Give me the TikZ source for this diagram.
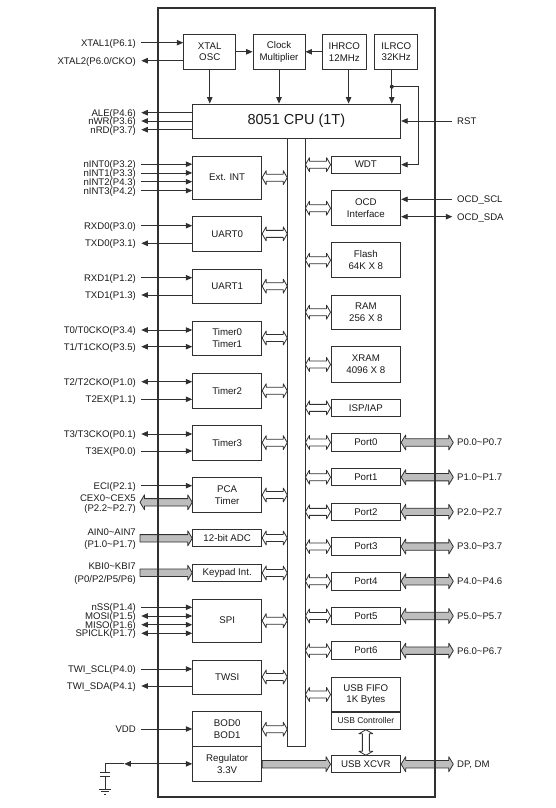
\documentclass[tikz,border=0pt]{standalone}
\usepackage{fontspec}
\setmainfont{Liberation Sans}
\usetikzlibrary{arrows.meta,calc}
\definecolor{ln}{HTML}{303030}
\definecolor{gfill}{HTML}{BDBDBD}
\definecolor{tx}{HTML}{1A1A1A}
\tikzset{
  box/.style={draw=ln, line width=0.9pt, fill=white, inner sep=0pt, align=center, font=\fontsize{9.7}{11.7}\selectfont, text=tx},
  pin/.style={inner sep=0pt, text height=6.8pt, text depth=0pt, font=\fontsize{9.6}{10}\selectfont, text=tx},
  wire/.style={draw=ln, line width=0.8pt},
  toBox/.style={-{Triangle[length=6.5pt,width=5.5pt]}},
  fromBox/.style={{Triangle[length=6.5pt,width=5.5pt]}-},
  both/.style={{Triangle[length=6.5pt,width=5.5pt]}-{Triangle[length=6.5pt,width=5.5pt]}},
  hollow/.style={draw=ln, line width=0.8pt, fill=white, line join=round},
  grayarr/.style={draw=ln, line width=0.8pt, fill=gfill, line join=round},
}
% horizontal hollow double arrow from #1 to #2 (y of #1)
\newcommand\hollowH[2]{\path[hollow] let \p1=(#1), \p2=(#2) in
  (\x1,\y1) -- ({\x1+4pt},{\y1+7pt}) -- ({\x1+4pt},{\y1+3.5pt}) -- ({\x2-4pt},{\y1+3.5pt}) -- ({\x2-4pt},{\y1+7pt}) -- (\x2,\y1)
  -- ({\x2-4pt},{\y1-7pt}) -- ({\x2-4pt},{\y1-3.5pt}) -- ({\x1+4pt},{\y1-3.5pt}) -- ({\x1+4pt},{\y1-7pt}) -- cycle;}
% vertical hollow double arrow, #1 above #2
\newcommand\hollowV[2]{\path[hollow] let \p1=(#1), \p2=(#2) in
  (\x1,\y1) -- ({\x1+7pt},{\y1-4pt}) -- ({\x1+3.5pt},{\y1-4pt}) -- ({\x1+3.5pt},{\y2+4pt}) -- ({\x1+7pt},{\y2+4pt}) -- (\x1,\y2)
  -- ({\x1-7pt},{\y2+4pt}) -- ({\x1-3.5pt},{\y2+4pt}) -- ({\x1-3.5pt},{\y1-4pt}) -- ({\x1-7pt},{\y1-4pt}) -- cycle;}
% gray double arrow
\newcommand\grayD[2]{\path[grayarr] let \p1=(#1), \p2=(#2) in
  (\x1,\y1) -- ({\x1+4.5pt},{\y1+7.5pt}) -- ({\x1+4.5pt},{\y1+3.7pt}) -- ({\x2-4.5pt},{\y1+3.7pt}) -- ({\x2-4.5pt},{\y1+7.5pt}) -- (\x2,\y1)
  -- ({\x2-4.5pt},{\y1-7.5pt}) -- ({\x2-4.5pt},{\y1-3.7pt}) -- ({\x1+4.5pt},{\y1-3.7pt}) -- ({\x1+4.5pt},{\y1-7.5pt}) -- cycle;}
% gray single arrow (head at #2)
\newcommand\grayS[2]{\path[grayarr] let \p1=(#1), \p2=(#2) in
  (\x1,{\y1+3.7pt}) -- ({\x2-4.5pt},{\y1+3.7pt}) -- ({\x2-4.5pt},{\y1+7.5pt}) -- (\x2,\y1)
  -- ({\x2-4.5pt},{\y1-7.5pt}) -- ({\x2-4.5pt},{\y1-3.7pt}) -- (\x1,{\y1-3.7pt}) -- cycle;}
% left pin: name, y, text, arrow style, box
\newcommand\lpin[5]{\node[pin,anchor=east] (#1) at (136,#2) {#3};
  \draw[wire,#4] ($(#1.east)+(5.3pt,0)$) -- (#5.west |- #1.east);}
\begin{document}
\begin{tikzpicture}[x=1pt,y=-1pt]
\useasboundingbox (0,0) rectangle (556,808);

% top blocks
\node[box,minimum width=52.1pt,minimum height=35pt] (xtal) at (209.75,51.8) {XTAL\\OSC};
\node[box,minimum width=52pt,minimum height=35pt] (clk) at (279,51.8) {Clock\\Multiplier};
\node[box,minimum width=43.3pt,minimum height=35pt] (ihrco) at (344.35,51.8) {IHRCO\\12MHz};
\node[box,minimum width=42.9pt,minimum height=35pt] (ilrco) at (396.25,51.8) {ILRCO\\32KHz};
\node[box,minimum width=208.7pt,minimum height=34.3pt,font=\fontsize{14.5}{16}\selectfont] (cpu) at (296.35,121.15) {8051 CPU (1T)};

% bus
\node[draw=ln,line width=0.9pt,fill=white,minimum width=17.3pt,minimum height=608.4pt,inner sep=0pt] (bus) at (296.35,442.5) {};

% left modules
\foreach \m/\y/\h/\t in {ext/177.65/43.3/Ext. INT, uart0/233.85/34.3/UART0, uart1/286.15/34.3/UART1,
  tmr01/338/34/Timer0\\Timer1, tmr2/390.8/35/Timer2, tmr3/442.65/34.7/Timer3, pca/495/34.6/PCA\\Timer,
  adc/538/17.4/12-bit ADC, kbd/573/17.4/Keypad Int., spi/620.65/43.3/SPI, twsi/677/34/TWSI,
  bod/729.2/35/BOD0\\BOD1, reg/763.85/34.3/Regulator\\3.3V}
  {\node[box,minimum width=69pt,minimum height=\h pt] (\m) at (227.2,\y) {\t};}

% right modules
\foreach \m/\y/\h/\t in {wdt/164.65/17.3/WDT, ocd/208.2/35/OCD\\Interface, flash/260.2/35/Flash\\64K X 8,
  ram/312.15/34.3/RAM\\256 X 8, xram/364.5/35.6/XRAM\\4096 X 8, isp/407.85/17.7/{ISP/IAP},
  p0/442.45/17.5/Port0, p1/477.15/17.5/Port1, p2/511.85/17.5/Port2, p3/546.55/17.5/Port3,
  p4/581.25/17.5/Port4, p5/615.95/17.5/Port5, p6/650.65/17.5/Port6, fifo/694.5/34.4/USB FIFO\\1K Bytes}
  {\node[box,minimum width=69.7pt,minimum height=\h pt] (\m) at (365.85,\y) {\t};}
\node[box,minimum width=69.7pt,minimum height=17.6pt,font=\fontsize{8.5}{10}\selectfont] (usbc) at (365.85,720.5) {USB Controller};
\draw[ln,line width=1.6pt] (fifo.south west) -- (fifo.south east);
\node[box,minimum width=69.7pt,minimum height=17pt] (xcvr) at (365.85,764.2) {USB XCVR};

% bus connections
\foreach \m in {ext,uart0,uart1,tmr01,tmr2,tmr3,pca,adc,kbd,spi,twsi,bod}
  {\hollowH{\m.east}{bus.west |- \m.east}}
\foreach \m in {wdt,ocd,flash,ram,xram,isp,p0,p1,p2,p3,p4,p5,p6,fifo}
  {\hollowH{bus.east |- \m.west}{\m.west}}
\hollowV{usbc.south}{xcvr.north}

% clock section
\draw[wire,toBox] (xtal.east) -- (clk.west);
\draw[wire,toBox] (ihrco.west) -- (clk.east);
\coordinate (ihx) at (348.6,86.7);
\coordinate (dot) at (391.8,86.7);
\coordinate (ilc) at (418,86.7);
\draw[wire,toBox] (xtal.south) -- (xtal.south |- cpu.north);
\draw[wire,toBox] (clk.south) -- (clk.south |- cpu.north);
\draw[wire,toBox] (ihrco.south -| ihx) -- (cpu.north -| ihx);
\draw[wire,toBox] (ilrco.south -| dot) -- (cpu.north -| dot);
\fill[ln] (dot) circle (2pt);
\draw[wire,toBox] (dot) -- (ilc) |- (wdt.east);

% left pins
\lpin{xt1}{42.7}{XTAL1(P6.1)}{toBox}{xtal}
\lpin{xt2}{60.7}{XTAL2(P6.0/CKO)}{fromBox}{xtal}
\lpin{ale}{112.7}{ALE(P4.6)}{fromBox}{cpu}
\lpin{nwr}{121}{nWR(P3.6)}{fromBox}{cpu}
\lpin{nrd}{129.7}{nRD(P3.7)}{fromBox}{cpu}
\lpin{ni0}{164.2}{nINT0(P3.2)}{toBox}{ext}
\lpin{ni1}{172.9}{nINT1(P3.3)}{toBox}{ext}
\lpin{ni2}{181.7}{nINT2(P4.3)}{toBox}{ext}
\lpin{ni3}{190.6}{nINT3(P4.2)}{toBox}{ext}
\lpin{rx0}{225.7}{RXD0(P3.0)}{toBox}{uart0}
\lpin{tx0}{243.3}{TXD0(P3.1)}{fromBox}{uart0}
\lpin{rx1}{277.7}{RXD1(P1.2)}{toBox}{uart1}
\lpin{tx1}{295}{TXD1(P1.3)}{fromBox}{uart1}
\lpin{t0}{330}{T0/T0CKO(P3.4)}{both}{tmr01}
\lpin{t1}{346.7}{T1/T1CKO(P3.5)}{both}{tmr01}
\lpin{t2}{381.7}{T2/T2CKO(P1.0)}{both}{tmr2}
\lpin{t2ex}{399.3}{T2EX(P1.1)}{toBox}{tmr2}
\lpin{t3}{434}{T3/T3CKO(P0.1)}{both}{tmr3}
\lpin{t3ex}{451}{T3EX(P0.0)}{toBox}{tmr3}
\lpin{eci}{485.7}{ECI(P2.1)}{toBox}{pca}
\lpin{nss}{607.3}{nSS(P1.4)}{toBox}{spi}
\lpin{mosi}{616}{MOSI(P1.5)}{both}{spi}
\lpin{miso}{624.7}{MISO(P1.6)}{both}{spi}
\lpin{sclk}{633.3}{SPICLK(P1.7)}{both}{spi}
\lpin{scl}{669}{TWI\_SCL(P4.0)}{toBox}{twsi}
\lpin{sda}{686}{TWI\_SDA(P4.1)}{fromBox}{twsi}
\lpin{vdd}{729}{VDD}{toBox}{bod}

% gray bus pins on left
\node[pin,anchor=east] (cexa) at (136,497.7) {CEX0\textasciitilde CEX5};
\node[pin,anchor=east] (cexb) at (136,508.3) {(P2.2\textasciitilde P2.7)};
\coordinate (cexL) at (140,502.3);
\grayD{cexL}{pca.west |- cexL}
\node[pin,anchor=east] (aina) at (136,532.3) {AIN0\textasciitilde AIN7};
\node[pin,anchor=east] (ainb) at (136,544) {(P1.0\textasciitilde P1.7)};
\coordinate (adcL) at (140,538.3);
\grayS{adcL}{adc.west |- adcL}
\node[pin,anchor=east] (kbia) at (136,565.7) {KBI0\textasciitilde KBI7};
\node[pin,anchor=east] (kbib) at (136,579.3) {(P0/P2/P5/P6)};
\coordinate (kbdL) at (140,572.7);
\grayS{kbdL}{kbd.west |- kbdL}

% regulator / capacitor
\coordinate (regA) at (124.3,763.85);
\coordinate (capT) at (105,763.85);
\coordinate (capP) at (105,772.7);
\coordinate (capQ) at (105,776.7);
\coordinate (gnd) at (105,789.3);
\draw[wire,both] (regA) -- (reg.west);
\draw[wire] (regA) -- (capT) -- (capP);
\draw[ln,line width=1.1pt] ($(capP)+(-5.2,0)$) -- ($(capP)+(5.2,0)$);
\draw[ln,line width=1.1pt] ($(capQ)+(-5.2,0)$) -- ($(capQ)+(5.2,0)$);
\draw[wire] (capQ) -- (gnd);
\draw[ln,line width=0.9pt] ($(gnd)+(-6,0)$) -- ($(gnd)+(6,0)$);
\draw[ln,line width=0.9pt] ($(gnd)+(-3.6,2.6)$) -- ($(gnd)+(3.6,2.6)$);
\draw[ln,line width=0.9pt] ($(gnd)+(-1.3,5.2)$) -- ($(gnd)+(1.3,5.2)$);
\grayS{reg.east |- xcvr.west}{xcvr.west}

% right pins
\node[pin,anchor=west] (rst) at (457,121) {RST};
\draw[wire,toBox] ($(rst.west)+(-5.3pt,0)$) -- (cpu.east |- rst.west);
\node[pin,anchor=west] (oscl) at (457,199.3) {OCD\_SCL};
\draw[wire,toBox] ($(oscl.west)+(-4.7pt,0)$) -- (ocd.east |- oscl.west);
\node[pin,anchor=west] (osda) at (457,216.7) {OCD\_SDA};
\draw[wire,both] ($(osda.west)+(-4.7pt,0)$) -- (ocd.east |- osda.west);

\foreach \m/\t in {p0/P0.0\textasciitilde P0.7, p1/P1.0\textasciitilde P1.7, p2/P2.0\textasciitilde P2.7,
  p3/P3.0\textasciitilde P3.7, p4/P4.0\textasciitilde P4.6, p5/P5.0\textasciitilde P5.7, p6/P6.0\textasciitilde P6.7}
  {\node[pin,anchor=west] (\m lab) at (457,0 |- \m.east) {\t};
   \grayD{\m.east}{$(\m lab.west)+(-3.7pt,0)$}}
\node[pin,anchor=west] (dplab) at (457,764.2) {DP, DM};
\grayD{xcvr.east}{$(dplab.west)+(-3.7pt,0)$}

% chip outline
\draw[ln,line width=2pt] (157.5,8.5) rectangle (435.3,797.3);
\end{tikzpicture}
\end{document}
